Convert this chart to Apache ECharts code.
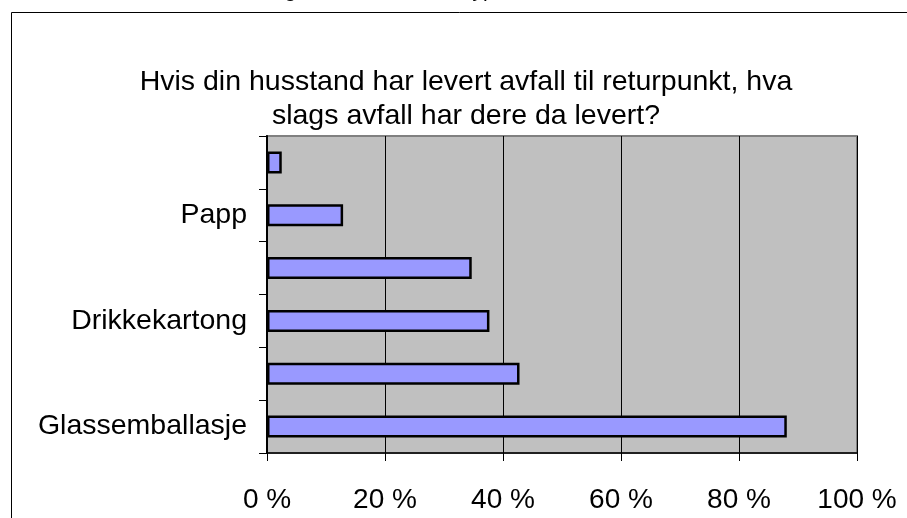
<!DOCTYPE html>
<html>
<head>
<meta charset="utf-8">
<script src="https://cdn.jsdelivr.net/npm/echarts@6/dist/echarts.min.js"></script>
<style>
  html, body { margin: 0; padding: 0; background: #fff; }
  #chart { width: 907px; height: 518px; }
</style>
</head>
<body>
<div id="chart"></div>
<script>
// categories from bottom to top, only every other one has a visible label
var categories = ['Glassemballasje', ' ', 'Drikkekartong', '  ', 'Papp', '   ']
var shares = [88.1, 42.8, 37.7, 34.7, 12.9, 2.5]
var xTicks = [0, 20, 40, 60, 80, 100]

var chart = echarts.init(document.getElementById('chart'))

chart.setOption({
  animation: false,
  backgroundColor: '#fff',
  textStyle: { fontFamily: 'Liberation Sans, Arial, sans-serif' },
  graphic: [
    // outer frame, runs off the right and bottom
    {
      type: 'rect',
      shape: { x: 11.5, y: 12.5, width: 1000, height: 1000 },
      style: { fill: null, stroke: '#000', lineWidth: 1 },
      silent: true
    },
    // caption above the frame, cut off by the page edge
    {
      type: 'text',
      x: 267, y: -8.5,
      style: {
        text: 'Figur 4: Hvilke avfallstyper',
        font: '21px "Liberation Sans", Arial, sans-serif',
        fill: '#000',
        verticalAlign: 'middle'
      },
      silent: true
    },
    // chart title
    {
      type: 'text',
      x: 466, y: 99,
      style: {
        text: 'Hvis din husstand har levert avfall til returpunkt, hva\nslags avfall har dere da levert?',
        font: '28.5px "Liberation Sans", Arial, sans-serif',
        lineHeight: 34,
        fill: '#000',
        align: 'center',
        verticalAlign: 'middle'
      },
      silent: true
    }
  ],
  grid: {
    left: 267,
    right: 50,
    top: 136,
    bottom: 65,
    show: true,
    backgroundColor: '#c0c0c0',
    borderColor: '#808080',
    borderWidth: 2
  },
  xAxis: {
    type: 'value',
    min: xTicks[0],
    max: xTicks[xTicks.length - 1],
    interval: xTicks[1] - xTicks[0],
    axisLine: { show: true, lineStyle: { color: '#000', width: 1.5 } },
    axisTick: { show: true, length: 8, lineStyle: { color: '#000' } },
    axisLabel: {
      formatter: '{value} %',
      fontSize: 28,
      color: '#000',
      margin: 33
    },
    splitLine: { show: true, lineStyle: { color: '#000', width: 1 } }
  },
  yAxis: {
    type: 'category',
    data: categories,
    axisLine: { show: true, lineStyle: { color: '#000', width: 2 } },
    axisTick: { show: true, length: 8, interval: 0, lineStyle: { color: '#000' } },
    axisLabel: {
      interval: 1,
      fontSize: 28.5,
      color: '#000',
      margin: 20
    },
    splitLine: { show: false }
  },
  series: [
    {
      type: 'bar',
      data: shares,
      barWidth: 22,
      itemStyle: {
        color: '#9999ff',
        borderColor: '#000',
        borderWidth: 2.5
      }
    }
  ]
})
</script>
</body>
</html>
